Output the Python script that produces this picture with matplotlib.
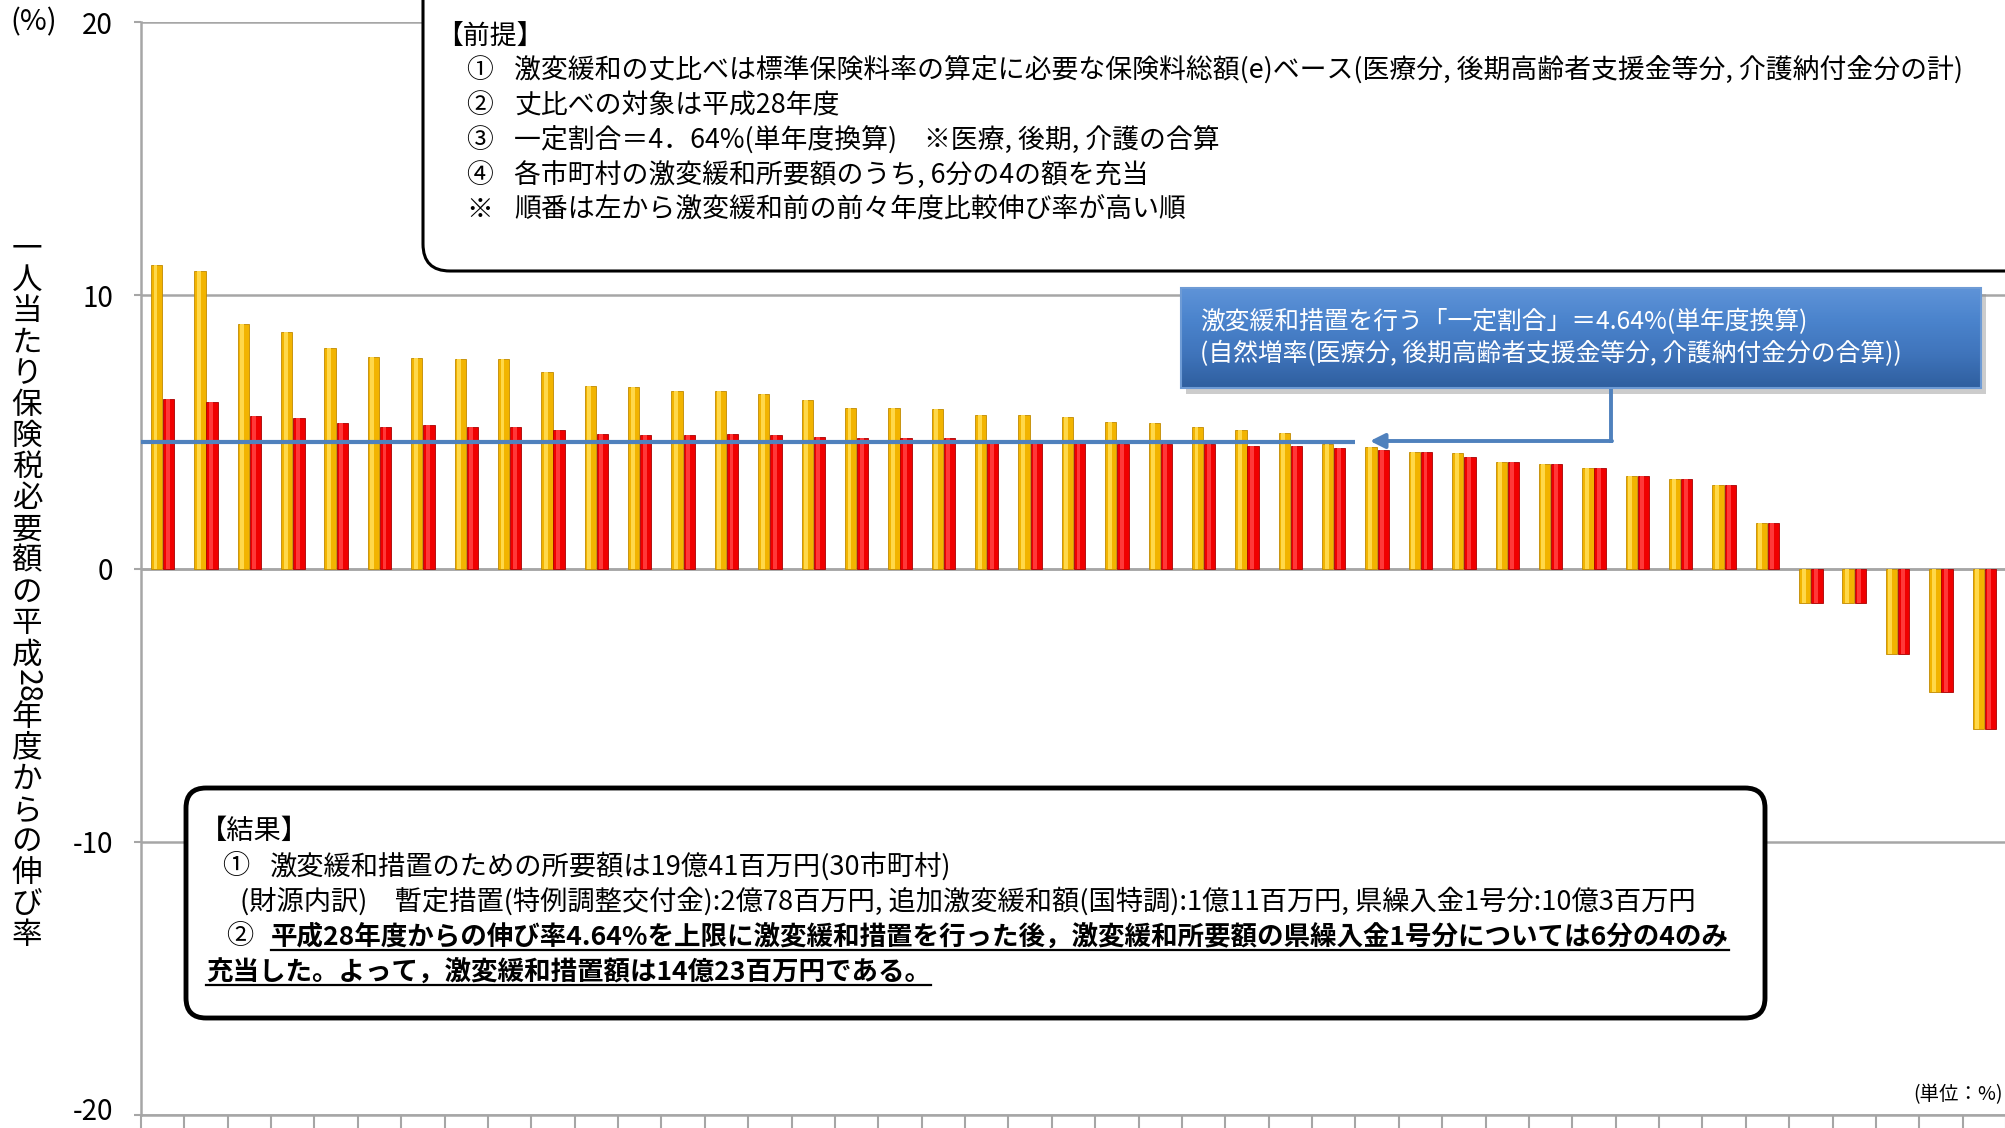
import numpy as np
import matplotlib.pyplot as plt
from matplotlib.colors import LinearSegmentedColormap
from matplotlib.patches import FancyBboxPatch, Rectangle, FancyArrowPatch
from matplotlib.lines import Line2D
from matplotlib.transforms import ScaledTranslation

plt.rcParams['font.family'] = ['Noto Sans CJK JP', 'DejaVu Sans']
plt.rcParams['axes.unicode_minus'] = False

# 平成28年度からの伸び率（％）: 激変緩和前 / 激変緩和後
before = [11.10, 10.89, 8.96, 8.66, 8.07, 7.74, 7.71, 7.65, 7.65, 7.18,
          6.67, 6.65, 6.50, 6.50, 6.40, 6.18, 5.88, 5.89, 5.85, 5.63,
          5.61, 5.55, 5.37, 5.33, 5.18, 5.06, 4.96, 4.57, 4.45, 4.26,
          4.24, 3.89, 3.84, 3.66, 3.39, 3.26, 3.07, 1.67, -1.26, -1.26,
          -3.13, -4.51, -5.89]
after = [6.22, 6.10, 5.59, 5.49, 5.33, 5.18, 5.24, 5.18, 5.18, 5.06,
         4.94, 4.90, 4.89, 4.92, 4.90, 4.82, 4.76, 4.76, 4.76, 4.62,
         4.64, 4.58, 4.57, 4.57, 4.55, 4.50, 4.49, 4.41, 4.35, 4.26,
         4.09, 3.89, 3.83, 3.66, 3.39, 3.26, 3.07, 1.67, -1.26, -1.26,
         -3.13, -4.51, -5.89]
threshold = 4.64
yticks = [-20, -10, 0, 10, 20]

ylabel_chars = list("一人当たり保険税必要額の平成") + ["28"] + list("年度からの伸び率")

premise_title = "【前提】"
premise_marks = ["①", "②", "③", "④", "※"]
premise_lines = [
    "激変緩和の丈比べは標準保険料率の算定に必要な保険料総額(e)ベース(医療分, 後期高齢者支援金等分, 介護納付金分の計)",
    "丈比べの対象は平成28年度",
    "一定割合＝4．64%(単年度換算)　※医療, 後期, 介護の合算",
    "各市町村の激変緩和所要額のうち, 6分の4の額を充当",
    "順番は左から激変緩和前の前々年度比較伸び率が高い順",
]
callout_lines = [
    "激変緩和措置を行う「一定割合」＝4.64%(単年度換算)",
    "(自然増率(医療分, 後期高齢者支援金等分, 介護納付金分の合算))",
]
result_title = "【結果】"
result_line1 = "激変緩和措置のための所要額は19億41百万円(30市町村)"
result_line2 = ("(財源内訳)　暫定措置(特例調整交付金):2億78百万円, 追加激変緩和額(国特調):"
                "1億11百万円, 県繰入金1号分:10億3百万円")
result_bold1 = "平成28年度からの伸び率4.64%を上限に激変緩和措置を行った後，激変緩和所要額の県繰入金1号分については6分の4のみ"
result_bold2 = "充当した。よって，激変緩和措置額は14億23百万円である。"

W, H = 2006, 1128
fig = plt.figure(figsize=(W / 100, H / 100), dpi=100)
renderer = fig.canvas.get_renderer()
T = fig.dpi_scale_trans


def P(x, y):
    # pixel position (from top-left) -> inches for dpi_scale_trans
    return x / 100, (H - y) / 100


def fit_size(s, width_px, weight='normal', base=20):
    t = fig.text(0, 0, s, fontsize=base, fontweight=weight)
    w = t.get_window_extent(renderer).width
    t.remove()
    return base * width_px / w


def put(x, y, s, size, **kw):
    return fig.text(*P(x, y), s, fontsize=size, transform=T, va='center', **kw)


# ---- chart ----
ax = fig.add_axes([141 / W, (H - 1115) / H, 1 - 141 / W, (1115 - 22) / H])
n = len(before)
x = np.arange(n)
bw = 0.26
ax.bar(x - 0.14, before, width=bw, color='#F2B400', edgecolor='#C08A00', linewidth=0.6, zorder=3)
ax.bar(x - 0.165, before, width=0.09, color='#FFD84A', linewidth=0, zorder=3)
ax.bar(x + 0.14, after, width=bw, color='#F00000', edgecolor='#A80000', linewidth=0.6, zorder=3)
ax.bar(x + 0.115, after, width=0.09, color='#FF3838', linewidth=0, zorder=3)

n_over = sum(1 for v in before if v > threshold)
ax.hlines(threshold, -0.5, n_over + 0.5, color='#4F81BD', lw=3, zorder=4)

ax.set_xlim(-0.5, -0.5 + (W - 141) / 43.48)
ax.set_ylim(-20, 20)
ax.set_yticks(yticks)
ax.set_yticklabels([str(v) for v in yticks], fontsize=20)
ax.set_xticks(np.arange(n + 1) - 0.5)
ax.set_xticklabels([])
ax.tick_params(axis='x', length=13, color='#A6A6A6', width=1.5)
ax.tick_params(axis='y', length=5, color='#A6A6A6', width=1.5, pad=15)
ax.set_axisbelow(True)
ax.yaxis.grid(True, color='#A6A6A6', lw=1.8)
ax.axhline(0, color='#A6A6A6', lw=1.8, zorder=2)
for side in ['top', 'right']:
    ax.spines[side].set_visible(False)
for side in ['left', 'bottom']:
    ax.spines[side].set_color('#A6A6A6')
    ax.spines[side].set_linewidth(1.8)
# keep the lowest tick label inside the picture
low = ax.get_yticklabels()[0]
low.set_transform(low.get_transform() + ScaledTranslation(0, 0.06, T))

put(10, 22, "(%)", 21, ha='left')

# vertical y label
for i, ch in enumerate(ylabel_chars):
    put(27, 249 + 31.2 * i, ch, 22, ha='center', rotation=-90 if ch.isdigit() else 0)

# ---- 前提 box ----
fig.add_artist(FancyBboxPatch(P(423, 271), 17, 4, boxstyle='round,pad=0,rounding_size=0.27',
                              transform=T, fc='white', ec='black', lw=2.2, zorder=5))
fs_top = fit_size(premise_lines[0], 1961 - 514)
put(436, 36, premise_title, fs_top, ha='left', zorder=6)
for i, (m, s) in enumerate(zip(premise_marks, premise_lines)):
    yy = 71 + 34.8 * i
    put(466, yy, m, fs_top, ha='left', zorder=6)
    put(514, yy, s, fs_top, ha='left', zorder=6)

# ---- callout ----
fig.add_artist(Rectangle((P(1181, 388)[0] + 0.05, P(1181, 388)[1] - 0.06), 8.0, 1.0, transform=T,
                         fc='#9A9A9A', ec='none', alpha=0.5, zorder=5))
cax = fig.add_axes([1181 / W, (H - 388) / H, 800 / W, 100 / H], zorder=5)
blue_grad = LinearSegmentedColormap.from_list('bg', ['#2F5F9F', '#3F74BB', '#4A83CC', '#5E93D8'])
cax.imshow(np.linspace(0, 1, 64).reshape(-1, 1), cmap=blue_grad, aspect='auto',
           origin='lower', extent=[0, 1, 0, 1])
cax.set_axis_off()
fig.add_artist(Rectangle(P(1181, 388), 8.0, 1.0, transform=T,
                         fc='none', ec='#6E9BD5', lw=1.5, zorder=6))
fs_call = fit_size(callout_lines[1], 1902 - 1200)
put(1200, 322, callout_lines[0], fs_call, ha='left', color='white', zorder=7)
put(1200, 354, callout_lines[1], fs_call, ha='left', color='white', zorder=7)
fig.add_artist(Line2D([P(1611, 388)[0], P(1611, 441)[0]], [P(1611, 388)[1], P(1611, 441)[1]],
                      transform=T, color='#4F81BD', lw=2.8, zorder=5))
fig.add_artist(FancyArrowPatch(P(1612, 441), P(1370, 441), transform=T, arrowstyle='-|>',
                               mutation_scale=22, color='#4F81BD', lw=2.8,
                               shrinkA=0, shrinkB=0, zorder=5))

# ---- 結果 box ----
fig.add_artist(FancyBboxPatch(P(186, 1018), 15.79, 2.30, boxstyle='round,pad=0,rounding_size=0.2',
                              transform=T, fc='white', ec='black', lw=3.5, zorder=5))
fs_res = fit_size(result_line2, 1699 - 243)
fs_bold = fit_size(result_bold1, 1730 - 271, weight='bold')
put(200, 831, result_title, fs_res, ha='left', zorder=6)
put(222, 866, "①", fs_res, ha='left', zorder=6)
put(270, 866, result_line1, fs_res, ha='left', zorder=6)
put(240, 901, result_line2, fs_res, ha='left', zorder=6)
put(226, 937, "②", fs_res, ha='left', zorder=6)
b1 = put(271, 937, result_bold1, fs_bold, ha='left', fontweight='bold', zorder=6)
b2 = put(206, 972, result_bold2, fs_bold, ha='left', fontweight='bold', zorder=6)
for t in (b1, b2):
    ext = t.get_window_extent(renderer)
    fig.add_artist(Line2D([ext.x0 / 100, ext.x1 / 100], [(ext.y0 + 1) / 100] * 2,
                          transform=T, color='black', lw=1.6, zorder=6))

put(2003, 1095, "(単位：%)", 14, ha='right')

fig.savefig('out.png', dpi=100)
